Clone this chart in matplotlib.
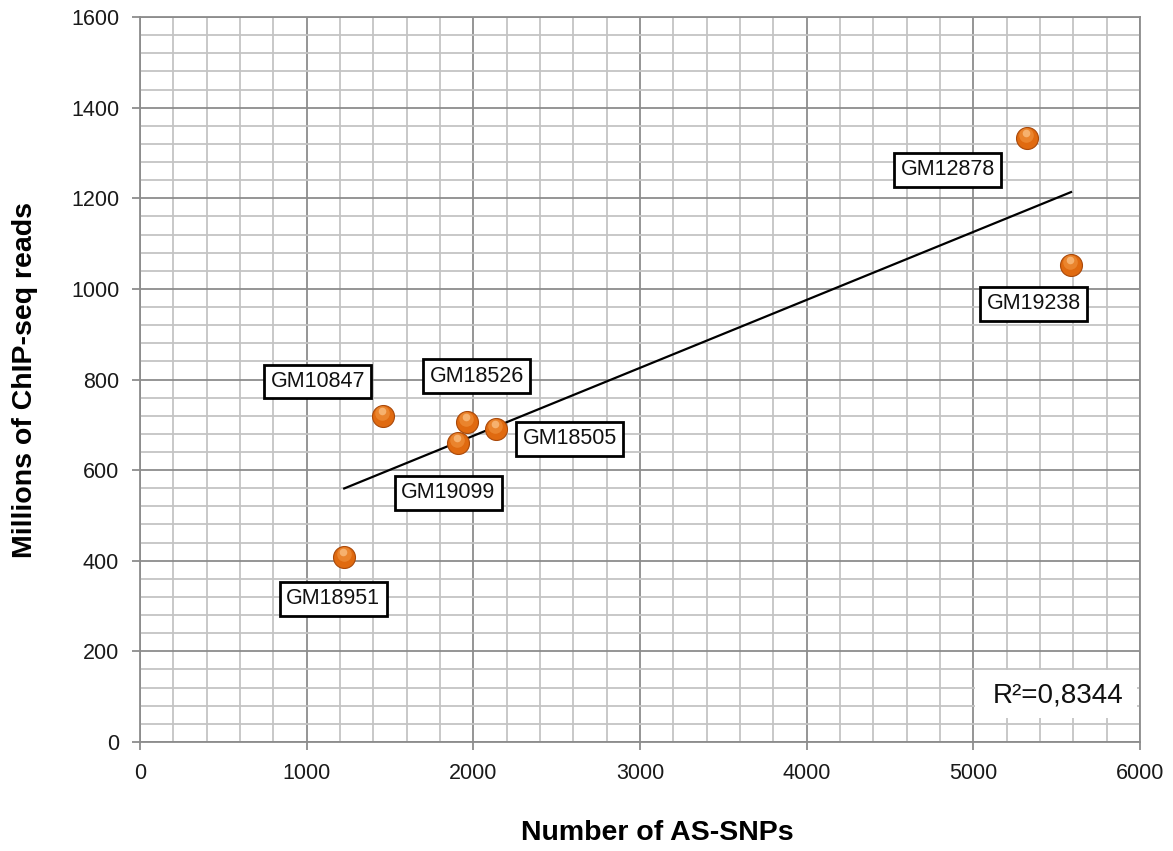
import numpy as np
import matplotlib
matplotlib.use("Agg")
import matplotlib.pyplot as plt
from matplotlib.transforms import ScaledTranslation
from matplotlib.ticker import MultipleLocator
from matplotlib.patches import Rectangle

# ---- data ----
cell_lines = ["GM18951", "GM10847", "GM18526", "GM19099", "GM18505", "GM12878", "GM19238"]
as_snps = [1225, 1458, 1962, 1908, 2136, 5322, 5586]
chip_reads = [408, 719, 706, 660, 691, 1333, 1053]
r2_text = "R\u00b2=0,8344"
# label offsets (points) from each marker
label_offsets = [(-8, -30), (-47, 25), (7, 33), (-7, -36), (53, -7), (-57, -23), (-27, -28)]

plt.rcParams['font.family'] = ['Liberation Sans', 'DejaVu Sans']

fig = plt.figure(figsize=(11.73, 8.51), dpi=100)
ax = fig.add_axes([0.1194, 0.1281, 0.8525, 0.8519])

ax.set_xlim(0, 6000)
ax.set_ylim(0, 1600)
ax.xaxis.set_major_locator(MultipleLocator(1000))
ax.xaxis.set_minor_locator(MultipleLocator(200))
ax.yaxis.set_major_locator(MultipleLocator(200))
ax.yaxis.set_minor_locator(MultipleLocator(40))
ax.grid(which='minor', color='#c4c4c4', linewidth=1.3, zorder=0)
ax.grid(which='major', color='#8c8c8c', linewidth=1.3, zorder=0)
ax.set_axisbelow(True)
for s in ax.spines.values():
    s.set_color('#8c8c8c')
    s.set_linewidth(1.3)
ax.tick_params(which='major', length=6, color='#8c8c8c', width=1.3, labelsize=15.5, labelcolor='#1a1a1a')
ax.tick_params(which='minor', length=0)
ax.tick_params(axis='x', pad=9)
ax.tick_params(axis='y', pad=9)

# trendline
x = np.array(as_snps, float)
y = np.array(chip_reads, float)
m, b = np.polyfit(x, y, 1)
xs = np.array([x.min(), x.max()])
ax.plot(xs, m * xs + b, color='black', linewidth=1.6, zorder=3)

# markers (sphere-like)
ax.scatter(as_snps, chip_reads, s=250, color='#E06A10', edgecolor='#A9490A', linewidth=0.8, zorder=4)
hl = ax.transData + ScaledTranslation(-0.5 / 72, 2.0 / 72, fig.dpi_scale_trans)
ax.scatter(as_snps, chip_reads, s=110, color='#F39A45', alpha=0.55, linewidth=0, zorder=5, transform=hl)
hl2 = ax.transData + ScaledTranslation(-1.0 / 72, 3.5 / 72, fig.dpi_scale_trans)
ax.scatter(as_snps, chip_reads, s=30, color='#FFD09A', alpha=0.6, linewidth=0, zorder=5, transform=hl2)

for name, xv, yv, off in zip(cell_lines, as_snps, chip_reads, label_offsets):
    ax.annotate(name, (xv, yv), xytext=off, textcoords='offset points', ha='center', va='center',
                fontsize=15.5, color='#111111', zorder=6,
                bbox=dict(boxstyle='square,pad=0.3', facecolor='white', edgecolor='black', linewidth=2))

ax.add_patch(Rectangle((0.835, 0.033), 0.162, 0.066, transform=ax.transAxes,
                       facecolor='white', edgecolor='none', zorder=5))
ax.text(0.918, 0.064, r2_text, transform=ax.transAxes, ha='center', va='center', fontsize=20,
        color='#111111', zorder=6)

ax.set_xlabel("Number of AS-SNPs", fontsize=20.5, fontweight='bold')
ax.xaxis.set_label_coords(0.517, -0.108)
ax.set_ylabel("Millions of ChIP-seq reads", fontsize=20.5, fontweight='bold', labelpad=24)

fig.savefig("out.png", dpi=100)
